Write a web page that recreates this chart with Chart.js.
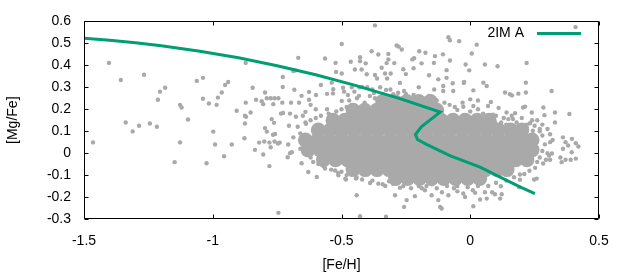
<!DOCTYPE html>
<html lang="en">
<head>
<meta charset="UTF-8" />
<title>[Mg/Fe] vs [Fe/H]</title>
<script src="https://cdn.jsdelivr.net/npm/chart.js"></script>
<style>
  body { margin: 0; background: #fff; }
  canvas { display: block; }
</style>
</head>
<body>
<canvas id="chart" width="630" height="280"></canvas>
<script>
// tick labels
const xTicks = [-1.5, -1, -0.5, 0, 0.5];
const yTicks = [-0.3, -0.2, -0.1, 0, 0.1, 0.2, 0.3, 0.4, 0.5, 0.6];

// 2IM A model track
const modelFeH  = [-1.5, -1.4, -1.3, -1.2, -1.05, -0.9, -0.75, -0.6, -0.45, -0.273, -0.117, -0.19, -0.213, -0.205, -0.17, -0.079, 0.038, 0.116, 0.193, 0.251];
const modelMgFe = [0.523, 0.514, 0.503, 0.489, 0.464, 0.434, 0.398, 0.357, 0.310, 0.248, 0.187, 0.12, 0.085, 0.062, 0.040, -0.011, -0.064, -0.109, -0.154, -0.184];

// crowded core of the star sample (where points overlap into a solid patch)
const starsCore = [
  [-0.29,-0.115],[-0.243,-0.115],[-0.197,-0.115],[-0.15,-0.115],[-0.103,-0.115],[-0.057,-0.115],[-0.01,-0.115],[0.037,-0.115],
  [-0.455,-0.075],[-0.408,-0.075],[-0.362,-0.075],[-0.315,-0.075],[-0.268,-0.075],[-0.222,-0.075],[-0.175,-0.075],[-0.128,-0.075],[-0.082,-0.075],[-0.035,-0.075],[0.012,-0.075],[0.058,-0.075],[0.105,-0.075],[0.143,-0.075],
  [-0.57,-0.03],[-0.523,-0.03],[-0.477,-0.03],[-0.43,-0.03],[-0.383,-0.03],[-0.337,-0.03],[-0.29,-0.03],[-0.243,-0.03],[-0.197,-0.03],[-0.15,-0.03],[-0.103,-0.03],[-0.057,-0.03],[-0.01,-0.03],[0.037,-0.03],[0.083,-0.03],[0.13,-0.03],[0.177,-0.03],[0.22,-0.03],
  [-0.63,0.015],[-0.583,0.015],[-0.537,0.015],[-0.49,0.015],[-0.443,0.015],[-0.397,0.015],[-0.35,0.015],[-0.303,0.015],[-0.257,0.015],[-0.21,0.015],[-0.163,0.015],[-0.117,0.015],[-0.07,0.015],[-0.023,0.015],[0.023,0.015],[0.07,0.015],[0.117,0.015],[0.163,0.015],[0.21,0.015],[0.24,0.015],
  [-0.64,0.06],[-0.593,0.06],[-0.547,0.06],[-0.5,0.06],[-0.453,0.06],[-0.407,0.06],[-0.36,0.06],[-0.313,0.06],[-0.267,0.06],[-0.22,0.06],[-0.173,0.06],[-0.127,0.06],[-0.08,0.06],[-0.033,0.06],[0.013,0.06],[0.06,0.06],[0.107,0.06],[0.153,0.06],[0.2,0.06],[0.24,0.06],
  [-0.59,0.105],[-0.543,0.105],[-0.497,0.105],[-0.45,0.105],[-0.403,0.105],[-0.357,0.105],[-0.31,0.105],[-0.263,0.105],[-0.217,0.105],[-0.17,0.105],[-0.123,0.105],[-0.077,0.105],[-0.03,0.105],[0.017,0.105],[0.063,0.105],[0.11,0.105],[0.157,0.105],[0.2,0.105],
  [-0.533,0.15],[-0.487,0.15],[-0.44,0.15],[-0.393,0.15],[-0.347,0.15],[-0.3,0.15],[-0.253,0.15],[-0.207,0.15],[-0.16,0.15],[-0.113,0.15],[-0.067,0.15],[-0.02,0.15],[0.027,0.15],[0.073,0.15],
  [-0.455,0.195],[-0.41,0.195],[-0.363,0.195],[-0.317,0.195],[-0.27,0.195],[-0.223,0.195],[-0.177,0.195],[-0.13,0.195],
  [-0.34,0.235],[-0.293,0.235],[-0.247,0.235],[-0.2,0.235],[-0.155,0.235]
];

// individual stars around the core
const starsOuter = [
  [-1.465,0.049],[-1.403,0.411],[-1.357,0.333],[-1.338,0.140],[-1.311,0.099],[-1.286,0.125],[-1.267,0.357],[-1.244,0.135],
  [-1.217,0.120],[-1.213,0.243],[-1.205,0.280],[-1.185,0.298],[-1.148,-0.041],[-1.127,0.220],[-1.121,0.208],[-1.127,0.049],
  [-1.096,0.153],[-1.062,0.329],[-1.038,0.343],[-1.038,0.248],[-1.015,0.226],[-0.985,0.220],[-0.965,0.276],[-0.952,0.310],
  [-0.940,0.324],[-0.980,0.253],[-0.998,0.098],[-0.991,0.039],[-0.926,0.039],[-1.024,-0.046],[-0.956,-0.014],[-0.907,0.193],
  [-0.872,0.411],[-0.872,0.230],[-0.875,0.170],[-0.875,0.135],[-0.877,0.068],[-0.871,0.166],[-0.853,0.185],[-0.845,0.298],
  [-0.832,0.243],[-0.836,0.015],[-0.810,0.236],[-0.804,0.223],[-0.804,-0.006],[-0.797,0.276],[-0.797,0.114],[-0.790,0.250],
  [-0.775,0.250],[-0.760,0.250],[-0.745,0.250],[-0.780,-0.059],[-0.775,0.027],[-0.771,0.155],[-0.766,0.084],[-0.765,0.223],
  [-0.762,0.138],[-0.758,0.087],[-0.790,0.098],[-0.745,-0.272],[-0.728,0.347],[-0.728,0.301],[-0.735,0.180],[-0.727,0.183],
  [-0.73,0.23],[-0.747,0.044],[-0.82,0.048],[-0.80,0.053],[-0.78,0.048],[-0.76,0.053],[-0.74,0.048],[-0.707,0.039],
  [-0.709,-0.019],[-0.693,0.004],[-0.70,0.0],[-0.687,0.072],[-0.687,0.374],[-0.668,0.434],[-0.678,0.377],[-0.683,0.289],
  [-0.696,0.23],[-0.70,0.18],[-0.704,0.125],[-0.677,0.166],[-0.665,0.23],[-0.655,0.261],[-0.655,-0.046],[-0.65,0.17],
  [-0.64,0.188],[-0.638,0.134],[-0.629,-0.086],[-0.626,0.279],[-0.626,0.243],[-0.62,0.22],[-0.607,0.098],[-0.6,0.2],
  [-0.599,0.265],[-0.596,-0.109],[-0.58,0.31],[-0.564,0.431],[-0.556,0.27],[-0.556,0.2],[-0.564,-0.07],[-0.538,0.321],
  [-0.533,0.272],[-0.532,0.291],[-0.523,0.411],[-0.521,0.37],[-0.525,-0.079],[-0.513,-0.09],[-0.512,-0.101],[-0.499,0.497],
  [-0.499,0.363],[-0.499,0.238],[-0.494,0.298],[-0.49,0.28],[-0.485,-0.116],[-0.483,-0.12],[-0.475,0.265],[-0.464,0.416],
  [-0.46,0.30],[-0.448,0.381],[-0.444,-0.116],[-0.441,-0.112],[-0.441,-0.192],[-0.432,0.261],[-0.428,0.437],[-0.428,0.419],
  [-0.428,-0.287],[-0.422,0.381],[-0.42,0.301],[-0.43,0.30],[-0.406,0.409],[-0.402,0.359],[-0.40,0.30],[-0.389,-0.136],
  [-0.383,0.464],[-0.374,0.274],[-0.370,0.582],[-0.370,0.356],[-0.362,0.34],[-0.357,0.449],[-0.357,-0.139],[-0.35,0.3],
  [-0.344,0.389],[-0.340,-0.142],[-0.331,0.363],[-0.327,0.288],[-0.327,-0.290],[-0.325,0.41],[-0.323,0.34],[-0.318,0.452],
  [-0.318,0.427],[-0.315,-0.128],[-0.31,0.29],[-0.309,0.363],[-0.299,0.268],[-0.295,0.41],[-0.292,-0.192],[-0.286,0.490],
  [-0.278,0.485],[-0.273,0.32],[-0.273,-0.158],[-0.266,0.472],[-0.26,0.382],[-0.257,0.283],[-0.257,-0.245],[-0.25,0.36],
  [-0.247,-0.214],[-0.225,0.427],[-0.22,0.387],[-0.218,0.432],[-0.215,-0.196],[-0.198,0.464],[-0.189,0.409],[-0.188,-0.16],
  [-0.176,-0.169],[-0.174,0.457],[-0.16,0.355],[-0.15,-0.192],[-0.149,-0.142],[-0.141,0.411],[-0.137,0.442],[-0.124,0.336],
  [-0.124,-0.214],[-0.117,-0.245],[-0.111,-0.252],[-0.110,-0.178],[-0.106,0.45],[-0.105,0.306],[-0.105,0.283],[-0.092,0.343],
  [-0.092,0.378],[-0.085,0.528],[-0.085,-0.192],[-0.079,0.514],[-0.079,0.422],[-0.068,0.318],[-0.066,0.283],[-0.063,-0.16],
  [-0.05,0.197],[-0.05,-0.174],[-0.043,0.51],[-0.027,0.211],[-0.027,-0.184],[-0.025,0.32],[-0.024,0.324],[-0.02,-0.2],
  [-0.018,0.404],[-0.004,0.377],[0.0,0.245],[0.006,0.454],[0.01,-0.169],[0.012,0.286],[0.012,0.215],[0.012,-0.242],
  [0.019,-0.181],[0.025,0.494],[0.03,0.2],[0.038,-0.211],[0.051,0.321],[0.057,0.404],[0.057,-0.178],[0.064,0.306],
  [0.064,-0.207],[0.069,0.215],[0.08,0.233],[0.085,-0.178],[0.088,0.175],[0.096,0.140],[0.096,-0.187],[0.106,0.396],
  [0.11,0.206],[0.116,-0.207],[0.119,-0.151],[0.12,0.109],[0.122,-0.187],[0.135,0.276],[0.141,0.185],[0.148,0.155],
  [0.154,0.268],[0.161,0.170],[0.162,0.263],[0.166,0.155],[0.166,0.102],[0.174,0.182],[0.187,0.271],[0.19,-0.155],
  [0.193,-0.121],[0.193,-0.097],[0.197,0.107],[0.205,0.208],[0.213,0.212],[0.216,0.321],[0.216,0.276],[0.219,0.411],
  [0.232,0.136],[0.239,0.185],[0.243,0.102],[0.248,-0.12],[0.252,-0.067],[0.258,-0.116],[0.283,-0.047],[0.284,0.208],
  [0.288,0.173],[0.294,-0.03],[0.306,-0.011],[0.31,0.086],[0.316,0.283],[0.317,-0.002],[0.32,0.06],[0.329,0.185],
  [0.329,0.140],[0.35,-0.02],[0.355,-0.041],[0.36,0.072],[0.36,0.02],[0.37,0.05],[0.37,-0.03],[0.38,0.035],
  [0.385,0.178],[0.39,-0.03],[0.394,0.004],[0.395,0.065],[0.41,0.045],[0.409,0.574],[0.41,-0.025],[0.42,0.030],
  [-0.06,0.16],[-0.02,0.17],[0.02,0.16],[0.05,0.18],[0.06,0.15],[0.14,0.13],[0.18,0.14],[0.2,0.16],
  [0.25,0.125],[0.27,0.11],[0.26,0.15],[0.0,0.19],[0.04,0.13],[0.12,0.14],[0.22,0.115],[0.1,0.125],
  [-0.65,0.04],[-0.66,0.02],[-0.64,0.0],[-0.62,-0.02],[-0.61,-0.04],[-0.59,-0.05],[-0.57,-0.06],[-0.54,-0.075],
  [-0.50,-0.085],[-0.48,-0.1],[-0.66,0.09],[-0.67,0.12],[-0.64,0.14],[-0.62,0.15],[-0.6,0.16],[-0.58,0.17],
  [-0.55,0.18],[-0.52,0.19],[-0.5,0.2],[-0.48,0.21],[-0.46,0.22],
  [-0.42,-0.12],[-0.38,-0.125],[-0.33,-0.15],[-0.30,-0.14],[-0.26,-0.15],[-0.23,-0.16],[-0.2,-0.15],[-0.17,-0.15],
  [-0.13,-0.16],[-0.09,-0.15],[-0.05,-0.15],[-0.01,-0.155],[0.03,-0.15],[0.07,-0.15],[0.1,-0.135],[0.14,-0.125],
  [0.17,-0.11],[0.21,-0.095],[0.23,-0.08],[0.26,-0.04],[0.27,-0.02],[0.28,0.01],[0.29,0.04],[0.28,0.08],[0.27,0.1],
  [-0.47,0.24],[-0.44,0.25],[-0.41,0.23],[-0.39,0.26],[-0.37,0.25],[-0.34,0.27],[-0.31,0.26],[-0.28,0.275],
  [-0.25,0.27],[-0.22,0.265],[-0.19,0.255],[-0.16,0.26],[-0.13,0.24],[-0.1,0.23],[-0.08,0.22],[-0.45,0.28],
  [-0.38,0.29],[-0.2,0.3],[-0.14,0.29],
  [-0.06,0.21],[-0.03,0.23],[0.03,0.24],[0.1,0.17],[0.13,0.16],[0.17,0.12],[0.22,0.13],[0.24,0.15],
  [0.28,0.13],[0.3,0.11],[0.31,0.05],[0.3,0.0],[0.31,-0.03]
];

const GREEN = '#009e73';
const GRAY = '#a9a9a9';
const FONT = '"Liberation Sans", Arial, sans-serif';

const toXY = arr => arr.map(p => ({ x: p[0], y: p[1] }));

// gnuplot-like frame: full border, ticks pointing inwards on all four sides,
// axis titles and the key in the top right corner
const framePlugin = {
  id: 'frame',
  afterDraw(chart) {
    const ctx = chart.ctx;
    const xs = chart.scales.x, ys = chart.scales.y;
    const a = chart.chartArea;
    const L = Math.round(a.left) + 0.5, R = Math.round(a.right) - 0.5;
    const T = Math.round(a.top) + 0.5, B = Math.round(a.bottom) - 0.5;
    const tick = 4;

    ctx.save();
    ctx.strokeStyle = '#000';
    ctx.lineWidth = 1;
    ctx.beginPath();
    ctx.rect(L, T, R - L, B - T);
    xTicks.forEach(v => {
      const px = Math.round(xs.getPixelForValue(v)) + 0.5;
      ctx.moveTo(px, B); ctx.lineTo(px, B - tick);
      ctx.moveTo(px, T); ctx.lineTo(px, T + tick);
    });
    yTicks.forEach(v => {
      const py = Math.round(ys.getPixelForValue(v)) + 0.5;
      ctx.moveTo(L, py); ctx.lineTo(L + tick, py);
      ctx.moveTo(R, py); ctx.lineTo(R - tick, py);
    });
    ctx.stroke();

    // axis titles
    ctx.fillStyle = '#000';
    ctx.font = '14px ' + FONT;
    ctx.textAlign = 'center';
    ctx.textBaseline = 'middle';
    ctx.fillText('[Fe/H]', (a.left + a.right) / 2, 265);
    ctx.save();
    ctx.translate(13, (a.top + a.bottom) / 2);
    ctx.rotate(-Math.PI / 2);
    ctx.fillText('[Mg/Fe]', 0, 0);
    ctx.restore();

    // key
    ctx.textAlign = 'right';
    ctx.fillText(chart.data.datasets[0].label, a.right - 75, a.top + 12);
    ctx.strokeStyle = GREEN;
    ctx.lineWidth = 3;
    ctx.beginPath();
    ctx.moveTo(a.right - 62, a.top + 12);
    ctx.lineTo(a.right - 18, a.top + 12);
    ctx.stroke();
    ctx.restore();
  }
};

new Chart(document.getElementById('chart'), {
  type: 'scatter',
  data: {
    datasets: [
      {
        type: 'line',
        label: '2IM A',
        data: modelFeH.map((x, i) => ({ x: x, y: modelMgFe[i] })),
        borderColor: GREEN,
        borderWidth: 3,
        pointRadius: 0,
        tension: 0,
        fill: false,
        order: 0
      },
      {
        label: 'stars',
        data: toXY(starsOuter),
        backgroundColor: GRAY,
        borderWidth: 0,
        pointRadius: 2.2,
        order: 1
      },
      {
        label: 'stars core',
        data: toXY(starsCore),
        backgroundColor: GRAY,
        borderWidth: 0,
        pointRadius: 7.5,
        order: 2
      }
    ]
  },
  options: {
    responsive: false,
    animation: false,
    events: [],
    layout: { padding: { top: 20, right: 31, left: 0, bottom: 0 } },
    plugins: { legend: { display: false }, tooltip: { enabled: false } },
    scales: {
      x: {
        type: 'linear',
        min: -1.5,
        max: 0.5,
        afterBuildTicks(s) { s.ticks = xTicks.map(v => ({ value: v })); },
        afterFit(s) { s.height = 61; },
        grid: { display: false, drawTicks: false },
        border: { display: false },
        ticks: {
          padding: 14,
          color: '#000',
          font: { family: FONT, size: 14 },
          callback: v => String(v),
          maxRotation: 0
        }
      },
      y: {
        type: 'linear',
        min: -0.3,
        max: 0.6,
        afterBuildTicks(s) { s.ticks = yTicks.map(v => ({ value: v })); },
        afterFit(s) { s.width = 84; },
        grid: { display: false, drawTicks: false },
        border: { display: false },
        ticks: {
          padding: 13,
          color: '#000',
          font: { family: FONT, size: 14 },
          callback: v => String(v)
        }
      }
    }
  },
  plugins: [framePlugin]
});
</script>
</body>
</html>
